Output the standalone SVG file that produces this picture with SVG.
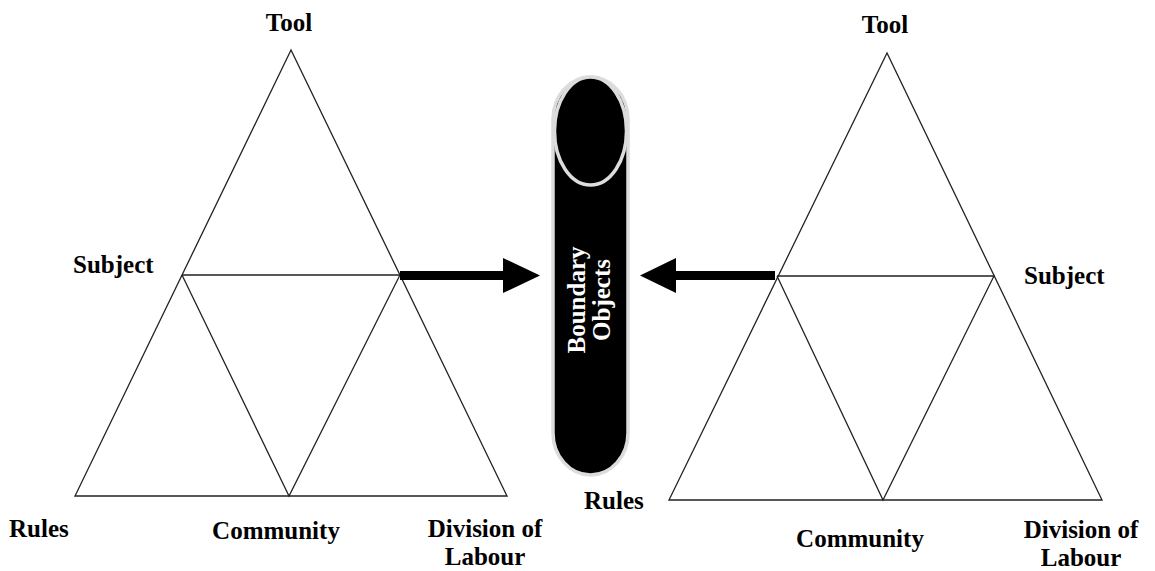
<svg xmlns="http://www.w3.org/2000/svg" width="1155" height="571" viewBox="0 0 1155 571">
<style>
.tri{fill:none;stroke:#222;stroke-width:1.3;stroke-linejoin:miter}
.lbl{font-family:"Liberation Serif","Times New Roman",serif;font-weight:bold;font-size:25px;fill:#000}
.mid{text-anchor:middle}
.bo{font-family:"Liberation Serif","Times New Roman",serif;font-weight:bold;font-size:25px;fill:#fff;text-anchor:middle}
</style>
<rect width="1155" height="571" fill="#fff"/>
<g id="left-triangle">
  <polygon class="tri" points="291,50 75,496 507,496"/>
  <polyline class="tri" points="182,275 400,275 289,496 182,275"/>
</g>
<g id="left-labels">
  <text class="lbl mid" x="289" y="31">Tool</text>
  <text class="lbl" x="73" y="273">Subject</text>
  <text class="lbl" x="9" y="537">Rules</text>
  <text class="lbl mid" x="276" y="539">Community</text>
  <text class="lbl mid" x="485" y="537">Division of</text>
  <text class="lbl mid" x="485" y="565">Labour</text>
</g>
<g id="right-triangle">
  <polygon class="tri" points="887,53 669,500 1102,500"/>
  <polyline class="tri" points="777,276 994,276 883,500 777,276"/>
</g>
<g id="right-labels">
  <text class="lbl mid" x="885" y="33">Tool</text>
  <text class="lbl" x="1024" y="284">Subject</text>
  <text class="lbl" x="584" y="509">Rules</text>
  <text class="lbl mid" x="860" y="547">Community</text>
  <text class="lbl mid" x="1081" y="538">Division of</text>
  <text class="lbl mid" x="1081" y="566">Labour</text>
</g>
<g id="boundary-objects">
  <rect x="553" y="77" width="75" height="398" rx="37.5" ry="42" fill="#000" stroke="#dcdcdc" stroke-width="3.5"/>
  <ellipse cx="590.5" cy="131" rx="36" ry="54" fill="#000" stroke="#dcdcdc" stroke-width="3.5"/>
  <text class="bo" transform="translate(590,300) rotate(-90)"><tspan x="0" y="-5">Boundary</tspan><tspan x="0" y="20">Objects</tspan></text>
</g>
<g id="connectors" fill="#000">
  <rect x="400" y="271" width="106" height="9"/>
  <polygon points="503,258 540,275.5 503,293"/>
  <rect x="674" y="271" width="101" height="9"/>
  <polygon points="640,275.5 676,258 676,293"/>
</g>
</svg>
